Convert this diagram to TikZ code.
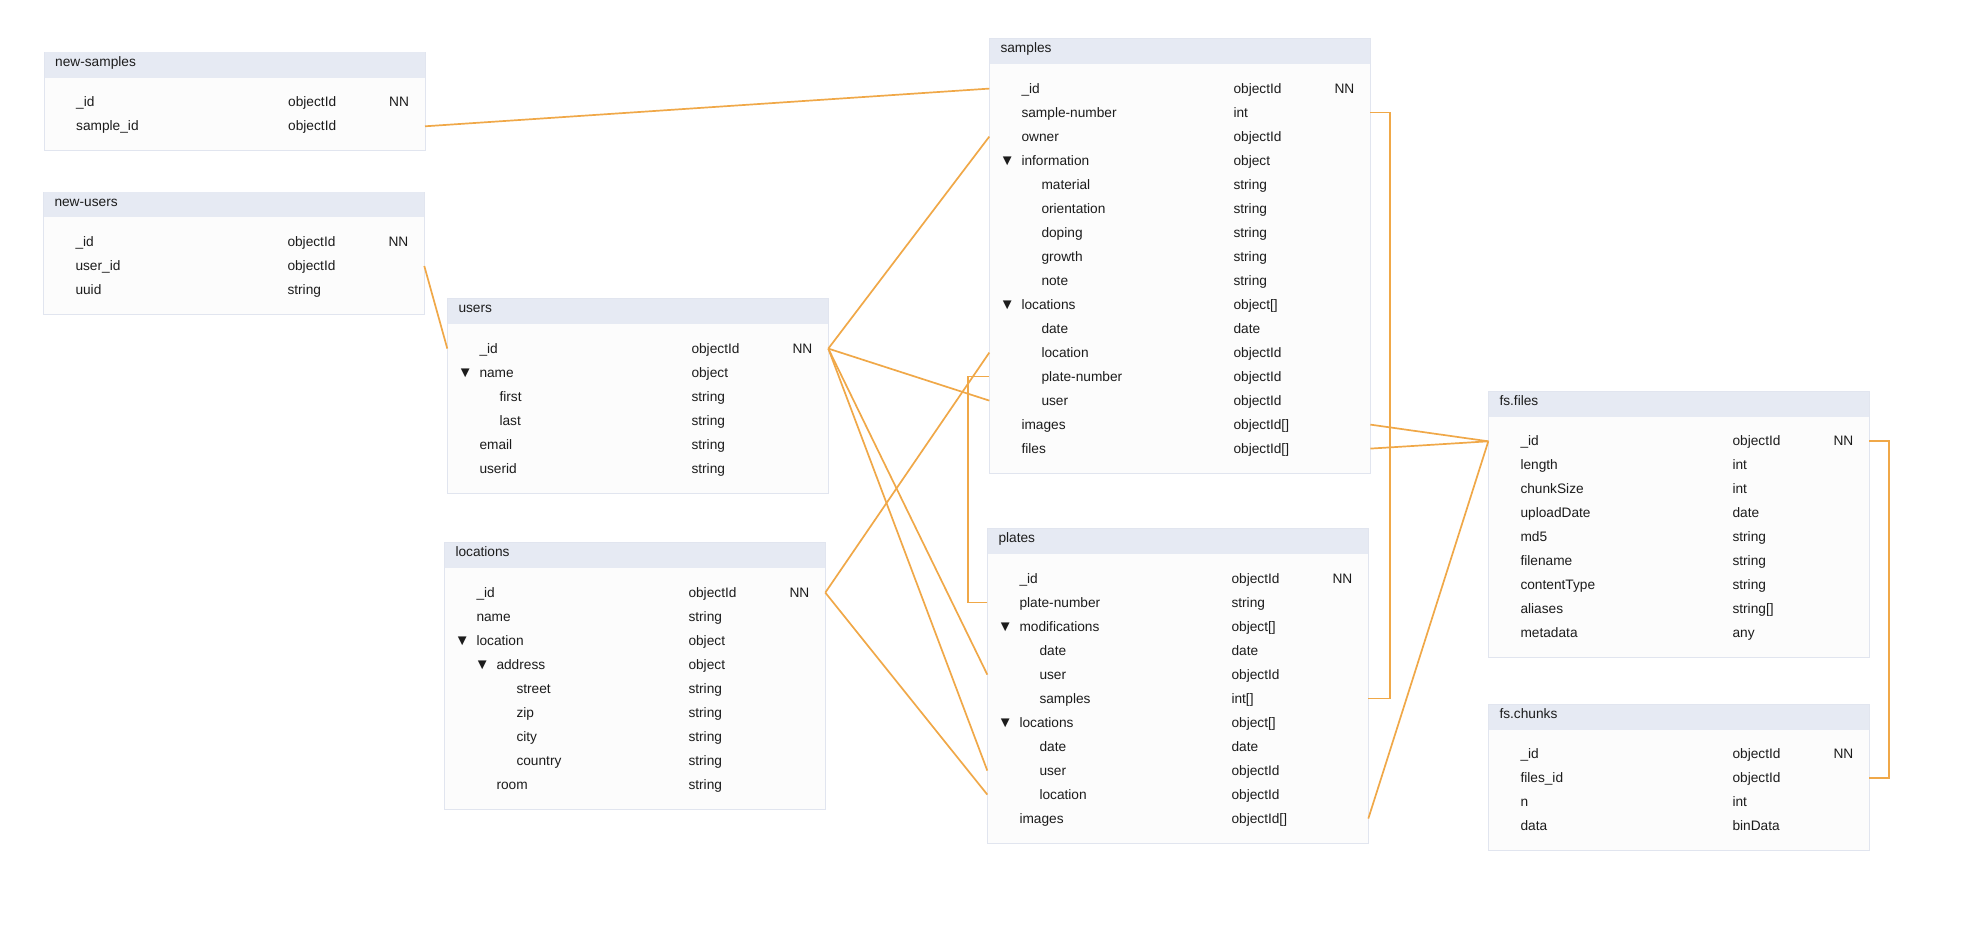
\documentclass[tikz,border=0pt]{standalone}
\usepackage{fontspec}
\setmainfont{Liberation Sans}
\usetikzlibrary{calc}

\definecolor{link}{RGB}{240,168,72}
\definecolor{headfill}{RGB}{230,234,243}
\definecolor{bodyfill}{RGB}{252,252,252}
\definecolor{frame}{RGB}{225,229,239}
\definecolor{ink}{RGB}{28,28,28}

\tikzset{
  tbox/.style={draw=frame, line width=1pt, fill=bodyfill, minimum width=381pt, inner sep=0pt},
  ttl/.style={anchor=base west, inner sep=0pt, text=ink, font=\fontsize{13.7}{16}\selectfont},
  cell/.style={anchor=base west, inner sep=0pt, text=ink, font=\fontsize{13.7}{16}\selectfont},
  caret/.style={anchor=center, inner sep=0pt, text=ink, font=\fontsize{15}{16}\selectfont},
  rel/.style={draw=link, line width=1.7pt},
}

% one collection box: id, title, left, top, number of fields
\newcommand\dbtable[5]{%
  \def\tid{#1}\def\tL{#3}\def\tT{#4}%
  \pgfmathsetmacro\tH{74.2+(#5-1)*24}%
  \node[tbox, minimum height=\tH pt, anchor=north west] (#1) at (#3,#4) {};
  \fill[headfill] (#3+0.5,#4+0.5) rectangle (#3+380.5,#4+25.7);
  \node[ttl] (#1-title) at (#3+11,#4+14.5) {#2};
}
% one field row: index, level, caret, name, type, key
\newcommand\fld[6]{%
  \pgfmathsetmacro\by{\tT+54.7+24*#1}%
  \pgfmathsetmacro\nx{\tL+32+20*#2}%
  \node[cell] (\tid-#1-n) at (\nx,\by) {#4};
  \node[cell] (\tid-#1-t) at (\tL+244,\by) {#5};
  \ifx&#6&\else\node[cell] (\tid-#1-k) at (\tL+345,\by) {#6};\fi
  \ifnum#3=1 \node[caret] (\tid-#1-c) at (\nx-14,\by-3.4) {▼};\fi
  \coordinate (\tid-#1-w) at (\tL,\by-4.4);
  \coordinate (\tid-#1-e) at (\tL+381,\by-4.4);
}

\begin{document}
\begin{tikzpicture}[x=1pt,y=-1pt]
\useasboundingbox[fill=white] (0,0) rectangle (1969,950);

\dbtable{newsamples}{new-samples}{44}{52}{2}
\fld{0}{0}{0}{\_id}{objectId}{NN}
\fld{1}{0}{0}{sample\_id}{objectId}{}

\dbtable{newusers}{new-users}{43.3}{191.7}{3}
\fld{0}{0}{0}{\_id}{objectId}{NN}
\fld{1}{0}{0}{user\_id}{objectId}{}
\fld{2}{0}{0}{uuid}{string}{}

\dbtable{users}{users}{447.3}{298.3}{6}
\fld{0}{0}{0}{\_id}{objectId}{NN}
\fld{1}{0}{1}{name}{object}{}
\fld{2}{1}{0}{first}{string}{}
\fld{3}{1}{0}{last}{string}{}
\fld{4}{0}{0}{email}{string}{}
\fld{5}{0}{0}{userid}{string}{}

\dbtable{locations}{locations}{444.3}{542.3}{9}
\fld{0}{0}{0}{\_id}{objectId}{NN}
\fld{1}{0}{0}{name}{string}{}
\fld{2}{0}{1}{location}{object}{}
\fld{3}{1}{1}{address}{object}{}
\fld{4}{2}{0}{street}{string}{}
\fld{5}{2}{0}{zip}{string}{}
\fld{6}{2}{0}{city}{string}{}
\fld{7}{2}{0}{country}{string}{}
\fld{8}{1}{0}{room}{string}{}

\dbtable{samples}{samples}{989.3}{38.3}{16}
\fld{0}{0}{0}{\_id}{objectId}{NN}
\fld{1}{0}{0}{sample-number}{int}{}
\fld{2}{0}{0}{owner}{objectId}{}
\fld{3}{0}{1}{information}{object}{}
\fld{4}{1}{0}{material}{string}{}
\fld{5}{1}{0}{orientation}{string}{}
\fld{6}{1}{0}{doping}{string}{}
\fld{7}{1}{0}{growth}{string}{}
\fld{8}{1}{0}{note}{string}{}
\fld{9}{0}{1}{locations}{object[]}{}
\fld{10}{1}{0}{date}{date}{}
\fld{11}{1}{0}{location}{objectId}{}
\fld{12}{1}{0}{plate-number}{objectId}{}
\fld{13}{1}{0}{user}{objectId}{}
\fld{14}{0}{0}{images}{objectId[]}{}
\fld{15}{0}{0}{files}{objectId[]}{}

\dbtable{plates}{plates}{987.3}{528.3}{11}
\fld{0}{0}{0}{\_id}{objectId}{NN}
\fld{1}{0}{0}{plate-number}{string}{}
\fld{2}{0}{1}{modifications}{object[]}{}
\fld{3}{1}{0}{date}{date}{}
\fld{4}{1}{0}{user}{objectId}{}
\fld{5}{1}{0}{samples}{int[]}{}
\fld{6}{0}{1}{locations}{object[]}{}
\fld{7}{1}{0}{date}{date}{}
\fld{8}{1}{0}{user}{objectId}{}
\fld{9}{1}{0}{location}{objectId}{}
\fld{10}{0}{0}{images}{objectId[]}{}

\dbtable{fsfiles}{fs.files}{1488.3}{391}{9}
\fld{0}{0}{0}{\_id}{objectId}{NN}
\fld{1}{0}{0}{length}{int}{}
\fld{2}{0}{0}{chunkSize}{int}{}
\fld{3}{0}{0}{uploadDate}{date}{}
\fld{4}{0}{0}{md5}{string}{}
\fld{5}{0}{0}{filename}{string}{}
\fld{6}{0}{0}{contentType}{string}{}
\fld{7}{0}{0}{aliases}{string[]}{}
\fld{8}{0}{0}{metadata}{any}{}

\dbtable{fschunks}{fs.chunks}{1488.3}{704}{4}
\fld{0}{0}{0}{\_id}{objectId}{NN}
\fld{1}{0}{0}{files\_id}{objectId}{}
\fld{2}{0}{0}{n}{int}{}
\fld{3}{0}{0}{data}{binData}{}

% references between collections
\draw[rel] (newsamples-1-e) -- (samples-0-w);
\draw[rel] (newusers-1-e) -- (users-0-w);
\draw[rel] (users-0-e) -- (samples-2-w);
\draw[rel] (users-0-e) -- (samples-13-w);
\draw[rel] (users-0-e) -- (plates-4-w);
\draw[rel] (users-0-e) -- (plates-8-w);
\draw[rel] (locations-0-e) -- (samples-11-w);
\draw[rel] (locations-0-e) -- (plates-9-w);
\draw[rel] (plates-1-w) -- ++(-19.6,0) |- (samples-12-w);
\draw[rel] (samples-1-e) -- ++(19.5,0) |- (plates-5-e);
\draw[rel] (samples-14-e) -- (fsfiles-0-w);
\draw[rel] (samples-15-e) -- (fsfiles-0-w);
\draw[rel] (plates-10-e) -- (fsfiles-0-w);
\draw[rel] (fsfiles-0-e) -- ++(20,0) |- (fschunks-1-e);
\end{tikzpicture}
\end{document}
